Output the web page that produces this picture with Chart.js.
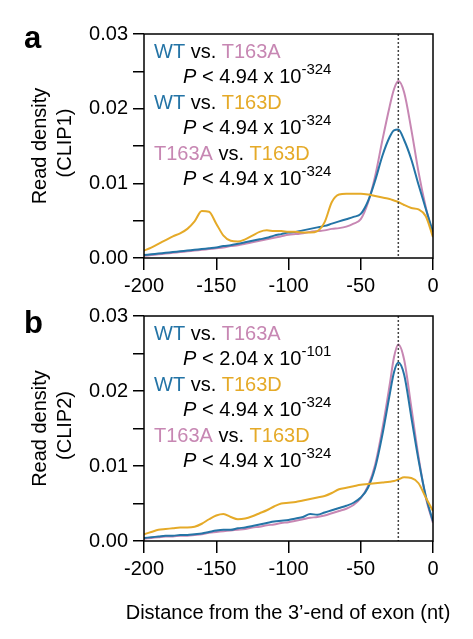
<!DOCTYPE html>
<html>
<head>
<meta charset="utf-8">
<script src="https://cdn.jsdelivr.net/npm/chart.js@4.4.0/dist/chart.umd.min.js"></script>
<style>
    body { margin: 0; background: #fff; width: 473px; height: 639px; position: relative; overflow: hidden; }
    canvas { position: absolute; left: 0; }
    #chartA { top: 0; }
    #chartB { top: 282px; }
</style>
</head>
<body>
<canvas id="chartA" width="473" height="300"></canvas>
<canvas id="chartB" width="473" height="357"></canvas>
<script>
// positions (nt from the 3'-end of exon)
const xPos = [-200, -195, -190, -185, -180, -175, -170, -165, -160, -155, -150, -145, -140, -135, -130, -125, -120, -115, -110, -105,
    -100, -95, -90, -85, -80, -75, -70, -65, -60, -55, -50, -45, -40, -35, -30, -27, -24, -20, -15, -10, -5, 0];

// CLIP1
const wtA = [0.0004, 0.0005, 0.0006, 0.0007, 0.0008, 0.0009, 0.0010, 0.0011, 0.0012, 0.0013, 0.0014, 0.0016, 0.0017, 0.0019, 0.0021, 0.0023, 0.0025, 0.0027, 0.0030, 0.0032,
    0.0034, 0.0035, 0.0037, 0.0039, 0.0041, 0.0043, 0.0046, 0.0049, 0.0052, 0.0055, 0.0059, 0.0076, 0.0104, 0.0137, 0.0162, 0.0171, 0.0172, 0.0158, 0.0132, 0.0098, 0.0066, 0.0035];
const t163aA = [0.0003, 0.0004, 0.0005, 0.0006, 0.0007, 0.0008, 0.0009, 0.0010, 0.0011, 0.0012, 0.0013, 0.0014, 0.0016, 0.0017, 0.0019, 0.0021, 0.0023, 0.0025, 0.0027, 0.0029,
    0.0031, 0.0032, 0.0033, 0.0035, 0.0036, 0.0037, 0.0039, 0.0040, 0.0042, 0.0046, 0.0052, 0.0074, 0.0110, 0.0158, 0.0203, 0.0226, 0.0237, 0.0222, 0.0172, 0.0115, 0.0068, 0.0030];
const t163dA = [0.0010, 0.0014, 0.0019, 0.0024, 0.0029, 0.0033, 0.0039, 0.0049, 0.0063, 0.0062, 0.0046, 0.0030, 0.0023, 0.0022, 0.0025, 0.0030, 0.0035, 0.0037, 0.0036, 0.0036,
    0.0035, 0.0035, 0.0034, 0.0034, 0.0036, 0.0048, 0.0075, 0.0085, 0.0086, 0.0086, 0.0086, 0.0085, 0.0083, 0.0081, 0.0079, 0.0077, 0.0075, 0.0071, 0.0067, 0.0065, 0.0056, 0.0028];

// CLIP2
const wtB = [0.0004, 0.0005, 0.0006, 0.0007, 0.0007, 0.0008, 0.0008, 0.0009, 0.0010, 0.0012, 0.0014, 0.0015, 0.0015, 0.0017, 0.0018, 0.0020, 0.0022, 0.0024, 0.0026, 0.0027,
    0.0028, 0.0030, 0.0032, 0.0036, 0.0035, 0.0038, 0.0041, 0.0044, 0.0047, 0.0051, 0.0058, 0.0071, 0.0098, 0.0142, 0.0195, 0.0225, 0.0238, 0.0222, 0.0165, 0.0108, 0.0060, 0.0026];
const t163aB = [0.0003, 0.0004, 0.0005, 0.0006, 0.0006, 0.0007, 0.0007, 0.0008, 0.0009, 0.0011, 0.0012, 0.0013, 0.0014, 0.0015, 0.0016, 0.0018, 0.0019, 0.0021, 0.0022, 0.0024,
    0.0025, 0.0027, 0.0029, 0.0031, 0.0032, 0.0034, 0.0037, 0.0040, 0.0043, 0.0048, 0.0057, 0.0073, 0.0102, 0.0150, 0.0208, 0.0245, 0.0262, 0.0242, 0.0178, 0.0112, 0.0058, 0.0024];
const t163dB = [0.0009, 0.0012, 0.0015, 0.0016, 0.0017, 0.0018, 0.0018, 0.0019, 0.0023, 0.0029, 0.0034, 0.0036, 0.0032, 0.0029, 0.0030, 0.0033, 0.0037, 0.0041, 0.0046, 0.0050,
    0.0051, 0.0052, 0.0054, 0.0056, 0.0058, 0.0060, 0.0064, 0.0069, 0.0071, 0.0073, 0.0075, 0.0076, 0.0077, 0.0078, 0.0079, 0.0080, 0.0082, 0.0085, 0.0084, 0.0077, 0.0058, 0.0040];

const pvalsA = [['4.94', '-324'], ['4.94', '-324'], ['4.94', '-324']];
const pvalsB = [['2.04', '-101'], ['4.94', '-324'], ['4.94', '-324']];
const xTicks = [-200, -150, -100, -50, 0];
const peakPos = -24;

const FONT = '"Liberation Sans", Arial, Helvetica, sans-serif';
const BLUE = '#2474a6';
const PINK = '#c787b3';
const GOLD = '#e5aa28';

function pts(vals) {
    return xPos.map(function (x, i) { return {x: x, y: vals[i]}; });
}

function drawRuns(ctx, x, y, runs) {
    runs.forEach(function (r) {
        ctx.font = r.font;
        ctx.fillStyle = r.color;
        ctx.fillText(r.t, x, y + (r.dy || 0));
        x += ctx.measureText(r.t).width;
    });
}

function makePanel(id, letter, letterY, clipName, wt, t163a, t163d, pvals, xAxisH, xTitleY) {
    let main = '20px ' + FONT;
    let extras = {
        id: 'extras',
        afterDatasetsDraw: function (chart) {
            let ctx = chart.ctx;
            let a = chart.chartArea;
            let xs = chart.scales.x;
            ctx.save();
            // dotted marker
            let px = xs.getPixelForValue(peakPos);
            ctx.strokeStyle = '#444';
            ctx.lineWidth = 1.5;
            ctx.setLineDash([2, 2]);
            ctx.beginPath();
            ctx.moveTo(px, a.top);
            ctx.lineTo(px, a.bottom);
            ctx.stroke();
            ctx.setLineDash([]);
            // frame
            ctx.strokeStyle = '#000';
            ctx.lineWidth = 1.5;
            ctx.strokeRect(a.left, a.top, a.right - a.left, a.bottom - a.top);
            ctx.restore();
        },
        afterDraw: function (chart) {
            let ctx = chart.ctx;
            let a = chart.chartArea;
            ctx.save();
            ctx.textBaseline = 'alphabetic';
            ctx.textAlign = 'left';
            // stats text
            let names = [['WT', BLUE, 'T163A', PINK], ['WT', BLUE, 'T163D', GOLD], ['T163A', PINK, 'T163D', GOLD]];
            let y0 = a.top + 24;
            names.forEach(function (n, i) {
                let y = y0 + i * 50.8;
                drawRuns(ctx, 154, y, [
                    {t: n[0], color: n[1], font: main},
                    {t: ' vs. ', color: '#000', font: main},
                    {t: n[2], color: n[3], font: main}
                ]);
                drawRuns(ctx, 183, y + 25.4, [
                    {t: 'P', color: '#000', font: 'italic ' + main},
                    {t: ' < ' + pvals[i][0] + ' x 10', color: '#000', font: main},
                    {t: pvals[i][1], color: '#000', font: '15px ' + FONT, dy: -9}
                ]);
            });
            // panel letter
            ctx.fillStyle = '#000';
            ctx.font = 'bold 31px ' + FONT;
            ctx.fillText(letter, 24, letterY);
            // y title
            let cy = (a.top + a.bottom) / 2;
            ctx.font = main;
            ctx.textAlign = 'center';
            ctx.save();
            ctx.translate(46, cy);
            ctx.rotate(-Math.PI / 2);
            ctx.fillText('Read density', 0, 0);
            ctx.restore();
            ctx.save();
            ctx.translate(71, cy - 3);
            ctx.rotate(-Math.PI / 2);
            ctx.fillText('(' + clipName + ')', 0, 0);
            ctx.restore();
            if (xTitleY) {
                ctx.fillText('Distance from the 3\u2019-end of exon (nt)', 288, xTitleY);
            }
            ctx.restore();
        }
    };

    new Chart(document.getElementById(id), {
        type: 'line',
        data: {
            datasets: [
                {label: 'T163D', data: pts(t163d), borderColor: GOLD},
                {label: 'WT', data: pts(wt), borderColor: BLUE},
                {label: 'T163A', data: pts(t163a), borderColor: PINK}
            ]
        },
        options: {
            responsive: false,
            animation: false,
            devicePixelRatio: 1,
            layout: {padding: {left: 0, top: 34, right: 40, bottom: 0}},
            elements: {
                line: {borderWidth: 2, cubicInterpolationMode: 'monotone'},
                point: {radius: 0}
            },
            plugins: {legend: {display: false}, tooltip: {enabled: false}},
            scales: {
                x: {
                    type: 'linear',
                    min: -200,
                    max: 0,
                    afterBuildTicks: function (scale) {
                        scale.ticks = xTicks.map(function (v) { return {value: v}; });
                    },
                    afterFit: function (scale) { scale.height = xAxisH; },
                    grid: {display: true, drawOnChartArea: false, drawTicks: true, tickLength: 12, color: '#000', lineWidth: 1.5},
                    border: {display: false},
                    ticks: {
                        font: {family: FONT, size: 20},
                        color: '#000',
                        padding: 4,
                        maxRotation: 0,
                        callback: function (v) { return String(v); }
                    }
                },
                y: {
                    min: 0,
                    max: 0.03,
                    afterFit: function (scale) { scale.width = 144; },
                    grid: {display: true, drawOnChartArea: false, drawTicks: true, tickLength: 11, color: '#000', lineWidth: 1.5},
                    border: {display: false},
                    ticks: {
                        stepSize: 0.005,
                        font: {family: FONT, size: 20},
                        color: '#000',
                        padding: 5,
                        callback: function (v) {
                            return Math.round(v / 0.005) % 2 === 0 ? v.toFixed(2) : '';
                        }
                    }
                }
            }
        },
        plugins: [extras]
    });
}

makePanel('chartA', 'a', 48, 'CLIP1', wtA, t163aA, t163dA, pvalsA, 42, null);
makePanel('chartB', 'b', 51, 'CLIP2', wtB, t163aB, t163dB, pvalsB, 98, 337);
</script>
</body>
</html>
